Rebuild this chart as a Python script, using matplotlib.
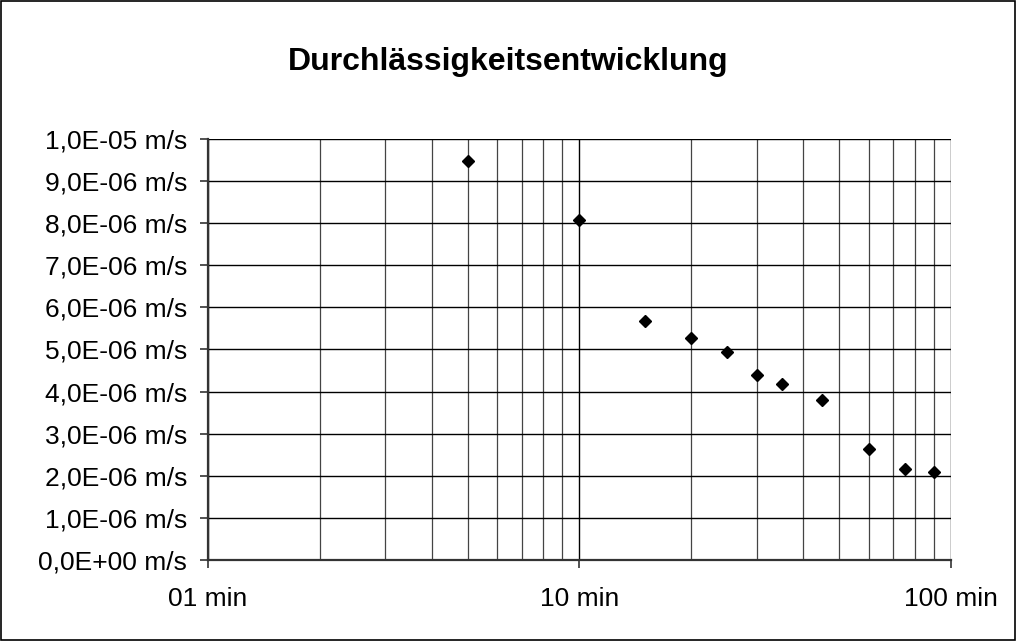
import matplotlib
matplotlib.use("Agg")
import matplotlib.pyplot as plt
from matplotlib.ticker import FixedLocator, FuncFormatter, NullFormatter
from matplotlib.patches import Rectangle

plt.rcParams['font.family'] = ['Liberation Sans', 'DejaVu Sans']

# Messzeit [min] und Durchlässigkeit [m/s]
zeit_min = [5, 10, 15, 20, 25, 30, 35, 45, 60, 75, 90]
k_wert = [9.47e-6, 8.07e-6, 5.68e-6, 5.28e-6, 4.93e-6, 4.39e-6,
          4.17e-6, 3.79e-6, 2.63e-6, 2.15e-6, 2.10e-6]

x_ticks = [1, 10, 100]
x_labels = ["01 min", "10 min", "100 min"]
x_minor = [2, 3, 4, 5, 6, 7, 8, 9, 20, 30, 40, 50, 60, 70, 80, 90]
y_ticks = [i * 1e-6 for i in range(11)]

fig = plt.figure(figsize=(10.16, 6.41), dpi=100)
ax = fig.add_axes([0.2047, 0.1264, 0.7313, 0.6568])

ax.plot(zeit_min, k_wert, linestyle='none', marker='D', markersize=6.5,
        color='black', zorder=5, clip_on=False)

ax.set_xscale('log')
ax.set_xlim(1, 100)
ax.set_ylim(0, 1e-5)

ax.xaxis.set_major_locator(FixedLocator(x_ticks))
ax.xaxis.set_minor_locator(FixedLocator(x_minor))
ax.xaxis.set_major_formatter(FuncFormatter(
    lambda v, p: x_labels[x_ticks.index(round(v))] if round(v) in x_ticks else ""))
ax.xaxis.set_minor_formatter(NullFormatter())
ax.yaxis.set_major_locator(FixedLocator(y_ticks))
ax.yaxis.set_major_formatter(FuncFormatter(
    lambda v, p: ("%.1E m/s" % v).replace(".", ",")))

ax.grid(True, which='major', axis='both', color='black', linewidth=1.0)
ax.grid(True, which='minor', axis='x', color='#444444', linewidth=0.9)

for s in ['top', 'right']:
    ax.spines[s].set_visible(False)
for s in ['left', 'bottom']:
    ax.spines[s].set_color('#333333')
    ax.spines[s].set_linewidth(1.6)

ax.tick_params(axis='y', which='major', direction='out', length=6, width=1.2,
               pad=9, labelsize=19, colors='#333333', labelcolor='black')
ax.tick_params(axis='x', which='major', direction='out', length=6, width=1.2,
               pad=13.5, labelsize=19, colors='#333333', labelcolor='black')
ax.tick_params(axis='x', which='minor', length=0)

fig.text(0.5, 0.903, "Durchlässigkeitsentwicklung", ha='center', va='center',
         fontsize=23, fontweight='bold')

fig.patches.append(Rectangle((0.001, 0.0015), 0.998, 0.997, transform=fig.transFigure,
                             fill=False, edgecolor='black', linewidth=1.2))

fig.savefig("out.png", dpi=100)
